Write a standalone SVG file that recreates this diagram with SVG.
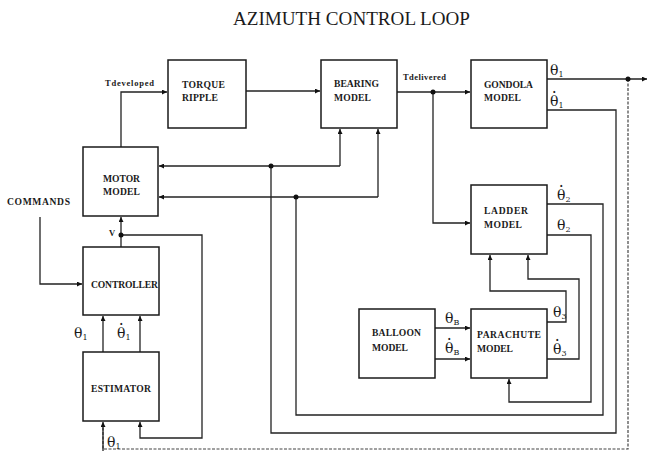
<svg xmlns="http://www.w3.org/2000/svg" width="647" height="451" viewBox="0 0 647 451">
<style>
.box{fill:#fff;stroke:#1a1a1a;stroke-width:1.5}
.ln{fill:none;stroke:#222;stroke-width:1.3}
.dot{fill:none;stroke:#444;stroke-width:1.2;stroke-dasharray:3 1.5}
.jn{fill:#111}
.bl{font-family:"Liberation Serif","Times New Roman",serif;font-weight:bold;font-size:9.6px;fill:#1a1a1a}
.sm{font-family:"Liberation Serif","Times New Roman",serif;font-weight:bold;font-size:8.5px;fill:#1a1a1a}
.gk{font-family:"DejaVu Serif","Liberation Serif",serif;font-size:14px;fill:#1a1a1a}
.dt{font-weight:bold}
.sub{font-size:8px}
.title{font-family:"Liberation Serif","Times New Roman",serif;font-size:18.5px;fill:#1a1a1a}
</style>
<defs>
<marker id="ah" viewBox="0 0 6 6" refX="6" refY="3" markerWidth="6" markerHeight="5" markerUnits="userSpaceOnUse" orient="auto">
<path d="M0,0 L6,3 L0,6 z" fill="#111"/>
</marker>
</defs>
<rect width="647" height="451" fill="#fff"/>
<text class="title" x="233" y="25" textLength="237" lengthAdjust="spacingAndGlyphs">AZIMUTH CONTROL LOOP</text>

<g id="connectors">
<path class="ln" d="M121,147 V92 H167" marker-end="url(#ah)"/>
<path class="ln" d="M246,91 H320" marker-end="url(#ah)"/>
<path class="ln" d="M397,92 H470" marker-end="url(#ah)"/>
<path class="ln" d="M433,92 V223 H470" marker-end="url(#ah)"/>
<path class="ln" d="M547,79 H647" marker-end="url(#ah)"/>
<path class="dot" d="M628,79 V449 H103 V426"/>
<path class="ln" d="M103,451 V422" marker-end="url(#ah)"/>
<path class="ln" d="M547,110 H616 V433 H271 V166"/>
<path class="ln" d="M340,166 H159" marker-end="url(#ah)"/>
<path class="ln" d="M340,166 V129" marker-end="url(#ah)"/>
<path class="ln" d="M547,204 H603 V415 H296 V197"/>
<path class="ln" d="M378,197 H159" marker-end="url(#ah)"/>
<path class="ln" d="M378,197 V129" marker-end="url(#ah)"/>
<path class="ln" d="M547,235 H591 V402 H509 V379" marker-end="url(#ah)"/>
<path class="ln" d="M547,322 H566 V291 H490 V255" marker-end="url(#ah)"/>
<path class="ln" d="M547,359 H579 V279 H528 V255" marker-end="url(#ah)"/>
<path class="ln" d="M435,328 H470" marker-end="url(#ah)"/>
<path class="ln" d="M435,359 H470" marker-end="url(#ah)"/>
<path class="ln" d="M121,247 V217" marker-end="url(#ah)"/>
<path class="ln" d="M121,235 H202 V438 H140 V422" marker-end="url(#ah)"/>
<path class="ln" d="M40,217 V284 H82" marker-end="url(#ah)"/>
<path class="ln" d="M103,352 V316" marker-end="url(#ah)"/>
<path class="ln" d="M140,352 V316" marker-end="url(#ah)"/>
<circle class="jn" cx="433" cy="92" r="2.5"/>
<circle class="jn" cx="628" cy="79" r="2.5"/>
<circle class="jn" cx="271" cy="166" r="2.5"/>
<circle class="jn" cx="296" cy="197" r="2.5"/>
<circle class="jn" cx="121" cy="235" r="2.5"/>
</g>

<g id="torque">
<rect class="box" x="168" y="60" width="78" height="68"/>
<text class="bl" x="182" y="88" textLength="43">TORQUE</text>
<text class="bl" x="182" y="101" textLength="36">RIPPLE</text>
</g>
<g id="bearing">
<rect class="box" x="321" y="60" width="76" height="68"/>
<text class="bl" x="334" y="87" textLength="45">BEARING</text>
<text class="bl" x="334" y="101" textLength="37">MODEL</text>
</g>
<g id="gondola">
<rect class="box" x="471" y="60" width="76" height="68"/>
<text class="bl" x="484" y="88" textLength="49">GONDOLA</text>
<text class="bl" x="484" y="101" textLength="37">MODEL</text>
</g>
<g id="motor">
<rect class="box" x="83" y="147" width="75" height="69"/>
<text class="bl" x="103" y="182" textLength="37">MOTOR</text>
<text class="bl" x="103" y="195" textLength="37">MODEL</text>
</g>
<g id="controller">
<rect class="box" x="83" y="247" width="76" height="68"/>
<text class="bl" x="91" y="288" textLength="67">CONTROLLER</text>
</g>
<g id="estimator">
<rect class="box" x="83" y="352" width="76" height="69"/>
<text class="bl" x="91" y="392" textLength="60">ESTIMATOR</text>
</g>
<g id="ladder">
<rect class="box" x="471" y="185" width="76" height="69"/>
<text class="bl" x="484" y="214" textLength="44">LADDER</text>
<text class="bl" x="484" y="228" textLength="38">MODEL</text>
</g>
<g id="parachute">
<rect class="box" x="471" y="309" width="76" height="69"/>
<text class="bl" x="477" y="338" textLength="64">PARACHUTE</text>
<text class="bl" x="477" y="352" textLength="36">MODEL</text>
</g>
<g id="balloon">
<rect class="box" x="359" y="309" width="76" height="69"/>
<text class="bl" x="372" y="336" textLength="49">BALLOON</text>
<text class="bl" x="372" y="351" textLength="36">MODEL</text>
</g>

<g id="labels">
<text class="sm" x="105" y="86" textLength="49">Tdeveloped</text>
<text class="sm" x="403" y="80" textLength="43">Tdelivered</text>
<text class="bl" x="7" y="205" textLength="63">COMMANDS</text>
<text class="sm" x="109" y="236" font-size="7">V</text>
<text class="gk" x="550" y="75">θ<tspan class="sub" dy="2">1</tspan></text>
<text class="gk" x="550" y="106">θ<tspan class="dt" dx="-7.6" dy="-3">˙</tspan><tspan class="sub" dx="0.6" dy="5">1</tspan></text>
<text class="gk" x="557" y="200">θ<tspan class="dt" dx="-7.6" dy="-3">˙</tspan><tspan class="sub" dx="0.6" dy="5">2</tspan></text>
<text class="gk" x="557" y="230">θ<tspan class="sub" dy="2">2</tspan></text>
<text class="gk" x="553" y="317">θ<tspan class="sub" dy="2">3</tspan></text>
<text class="gk" x="553" y="354">θ<tspan class="dt" dx="-7.6" dy="-3">˙</tspan><tspan class="sub" dx="0.6" dy="5">3</tspan></text>
<text class="gk" x="445" y="323">θ<tspan class="sub" dy="2">B</tspan></text>
<text class="gk" x="445" y="353">θ<tspan class="dt" dx="-7.6" dy="-3">˙</tspan><tspan class="sub" dx="0.6" dy="5">B</tspan></text>
<text class="gk" x="74" y="338">θ<tspan class="sub" dy="2">1</tspan></text>
<text class="gk" x="117" y="338">θ<tspan class="dt" dx="-7.6" dy="-3">˙</tspan><tspan class="sub" dx="0.6" dy="5">1</tspan></text>
<text class="gk" x="107" y="447">θ<tspan class="sub" dy="2">1</tspan></text>
</g>
</svg>
